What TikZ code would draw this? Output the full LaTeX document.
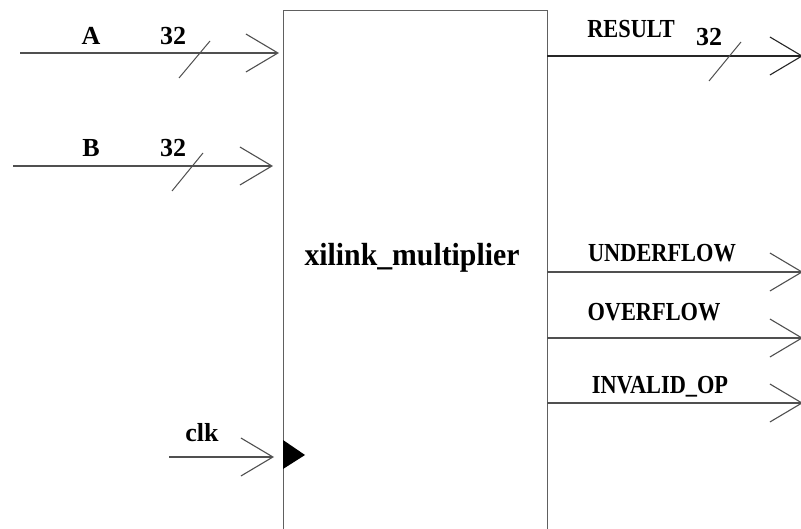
\documentclass[tikz,border=0pt]{standalone}
\usepackage{fontspec}
\usepackage{graphicx}
\setmainfont{Liberation Serif}
\usetikzlibrary{arrows.meta}
\definecolor{wire}{HTML}{505050}
\definecolor{frame}{HTML}{606060}
\tikzset{
  x=1pt, y=-1pt,
  wire/.style={draw=wire, line width=1.2pt,
    -{Straight Barb[length=32pt, width=38pt, line width=1.1pt]}},
  outwire/.style={wire, draw=black!85},
  busmark/.style={draw=wire, line width=1pt},
  lbl/.style={inner sep=0pt, anchor=base, font=\bfseries\fontsize{26}{28}\selectfont},
  tight/.style={lbl},
  block/.style={draw=frame, line width=1.2pt, fill=white, anchor=north west,
    minimum width=264pt, minimum height=540pt, inner sep=0pt},
}
\newcommand{\sq}[1]{\scalebox{0.86}[1]{#1}}
\begin{document}
\begin{tikzpicture}
\clip (0,0) rectangle (801,529);
\fill[white] (0,0) rectangle (801,529);

% multiplier block
\node[block] (blk) at (283,10) {};
\node[inner sep=0pt, anchor=base, font=\bfseries\fontsize{32}{34}\selectfont]
  (title) at (412,266) {\scalebox{0.93}[1]{xilink\_multiplier}};
\fill[black] (283,440) -- (305,455) -- (283,469) -- cycle;

% input ends
\coordinate (ainS) at (20,53);   \coordinate (ainE) at (279,53);
\coordinate (binS) at (13,166);  \coordinate (binE) at (273,166);
\coordinate (clkS) at (169,457); \coordinate (clkE) at (274,457);

% output ends
\coordinate (resS) at (547,56);  \coordinate (resE) at (803,56);
\coordinate (undS) at (547,272); \coordinate (undE) at (803,272);
\coordinate (ovfS) at (547,338); \coordinate (ovfE) at (803,338);
\coordinate (invS) at (547,403); \coordinate (invE) at (803,403);

\draw[wire] (ainS) -- (ainE);
\draw[wire] (binS) -- (binE);
\draw[wire] (clkS) -- (clkE);
\draw[outwire] (resS) -- (resE);
\draw[wire] (undS) -- (undE);
\draw[wire] (ovfS) -- (ovfE);
\draw[wire] (invS) -- (invE);

% bus width marks
\draw[busmark] (179,78) -- (210,41);
\draw[busmark] (172,191) -- (203,153);
\draw[busmark] (709,81) -- (741,42);

% labels
\node[lbl] (la) at (91,45) {A};
\node[lbl] (wa) at (173,45) {32};
\node[lbl] (lb) at (91,157) {B};
\node[lbl] (wb) at (173,157) {32};
\node[lbl] (lc) at (202,441) {clk};
\node[lbl] (lr) at (631,38) {\sq{RESULT}};
\node[lbl] (wr) at (709,46) {32};
\node[lbl] (lu) at (662,262) {\sq{UNDERFLOW}};
\node[lbl] (lo) at (654,321) {\sq{OVERFLOW}};
\node[lbl] (li) at (660,393) {\sq{INVALID\_OP}};
\end{tikzpicture}
\end{document}
